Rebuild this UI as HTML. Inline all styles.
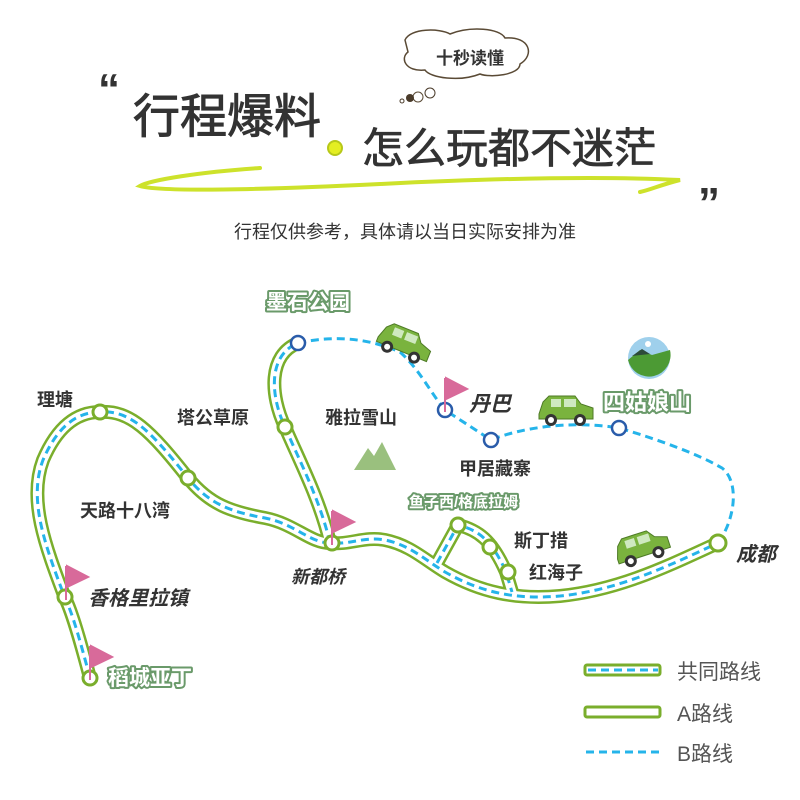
<!DOCTYPE html>
<html><head><meta charset="utf-8"><style>
body{margin:0;background:#fff}
svg{display:block}
text{font-family:"Liberation Sans","Noto Sans CJK SC",sans-serif}
</style></head><body>
<svg width="800" height="800" viewBox="0 0 800 800" xmlns="http://www.w3.org/2000/svg">
<defs>
<path id="p1" d="M90,678 C80,640 72,612 65,598 C45,545 28,500 43,460 C58,425 78,412 100,412 C130,410 150,430 188,478 C210,505 232,512 265,518 C295,524 310,543 330,543 C350,545 365,536 385,540 C410,545 425,560 445,572 C480,592 515,600 560,596 C620,590 670,565 718,543"/>
<path id="p2" d="M330,543 C320,500 300,462 285,427 C270,395 268,355 298,343"/>
<path id="p3" d="M437,563 L458,525 C478,530 492,540 506,572 L512,592"/>
<g id="car">
<path d="M0,18 L4,6 L10,0 L36,0 L42,8 L54,12 L54,23 L0,23 Z" fill="#7ab33e" stroke="#4d7a25" stroke-width="1"/>
<rect x="12" y="3" width="10" height="8" fill="#cfe9c0"/><rect x="25" y="3" width="12" height="8" fill="#cfe9c0"/>
<circle cx="12" cy="24" r="6" fill="#333"/><circle cx="12" cy="24" r="3" fill="#fff"/>
<circle cx="41" cy="24" r="6" fill="#333"/><circle cx="41" cy="24" r="3" fill="#fff"/>
</g>
</defs>

<!-- header -->
<text x="98" y="104" font-size="44" font-weight="bold" fill="#333">“</text>
<text x="698" y="218" font-size="44" font-weight="bold" fill="#333">”</text>
<path d="M405,40 C410,28 440,28 450,34 C470,26 500,28 505,38 C530,36 535,55 520,64 C520,75 490,78 480,74 C460,82 430,78 425,70 C405,72 400,58 408,52 Z" fill="#fff" stroke="#5a4a35" stroke-width="1.5"/>
<text x="436" y="64" font-size="17" font-weight="bold" fill="#333">十秒读懂</text>
<circle cx="418" cy="97" r="5" fill="#fff" stroke="#5a4a35"/><circle cx="410" cy="98" r="4" fill="#4a3b2a"/><circle cx="402" cy="101" r="2" fill="none" stroke="#4a3b2a"/><circle cx="430" cy="93" r="5" fill="none" stroke="#4a3b2a"/>
<text x="133" y="133" font-size="47" fill="#333" stroke="#333" stroke-width="1">行程爆料</text>
<circle cx="335" cy="148" r="7" fill="#e4ee22" stroke="#b7c81a" stroke-width="2"/>
<text x="362" y="163" font-size="42" fill="#333" stroke="#333" stroke-width="0.8">怎么玩都不迷茫</text>
<path d="M260,168 C200,172 150,180 140,186 C160,192 260,190 380,184 C500,178 600,176 680,180 C660,185 650,190 640,192" fill="none" stroke="#cde22b" stroke-width="4" stroke-linecap="round"/>
<text x="405" y="238" font-size="18" fill="#333" text-anchor="middle">行程仅供参考，具体请以当日实际安排为准</text>

<!-- routes -->
<g fill="none" stroke-linecap="round" stroke-linejoin="round">
<use href="#p1" stroke="#7aae2c" stroke-width="14"/><use href="#p2" stroke="#7aae2c" stroke-width="14"/><use href="#p3" stroke="#7aae2c" stroke-width="14"/>
<use href="#p1" stroke="#fff" stroke-width="9"/><use href="#p2" stroke="#fff" stroke-width="9"/><use href="#p3" stroke="#fff" stroke-width="9"/>
<g stroke="#25b4ea" stroke-width="3" stroke-dasharray="8,5" stroke-linecap="butt">
<use href="#p1"/><use href="#p2"/><use href="#p3"/>
<path d="M298,343 C340,334 372,340 400,352 C420,370 430,392 445,410 L491,440 C520,428 570,420 619,428 C660,440 700,455 722,468 C740,482 735,520 718,543"/>
</g>
</g>

<!-- stations -->
<g fill="#fff" stroke="#7aae2c" stroke-width="3">
<circle cx="100" cy="412" r="7"/><circle cx="188" cy="478" r="7"/><circle cx="285" cy="427" r="7"/><circle cx="332" cy="543" r="7"/>
<circle cx="65" cy="597" r="7"/><circle cx="90" cy="678" r="7"/><circle cx="458" cy="525" r="7"/><circle cx="490" cy="547" r="7"/><circle cx="508" cy="572" r="7"/><circle cx="718" cy="543" r="8"/>
</g>
<g fill="#fff" stroke="#2a5caa" stroke-width="2.5">
<circle cx="298" cy="343" r="7"/><circle cx="445" cy="410" r="7"/><circle cx="491" cy="440" r="7"/><circle cx="619" cy="428" r="7"/>
</g>
<!-- flags -->
<g fill="#d86a9a" stroke="#d86a9a" stroke-width="2">
<path d="M66,600 V566" /><path d="M67,566 L88,577 L67,587 Z"/>
<path d="M90,680 V646"/><path d="M91,646 L112,657 L91,667 Z"/>
<path d="M332,545 V511"/><path d="M333,511 L354,522 L333,532 Z"/>
<path d="M445,412 V378"/><path d="M446,378 L467,389 L446,399 Z"/>
</g>
<!-- mountain -->
<path d="M354,470 L368,448 L374,456 L382,442 L396,470 Z" fill="#9ac07e"/>
<!-- scenic icon -->
<circle cx="649" cy="358" r="21" fill="#9fd0ec"/>
<path d="M628,360 L640,350 L652,355 L670,350 A21,21 0 0 1 628,360 Z" fill="#4c9a34"/>
<path d="M632,356 L642,349 L650,354 Z" fill="#2d4a3a"/>
<circle cx="648" cy="344" r="3" fill="#fff"/>
<!-- cars -->
<use href="#car" transform="translate(385,320) rotate(22)"/>
<use href="#car" transform="translate(539,396)"/>
<use href="#car" transform="translate(612,542) rotate(-18)"/>

<!-- labels -->
<g font-weight="bold" fill="#333" font-size="18">
<text x="37" y="406">理塘</text>
<text x="177" y="424">塔公草原</text>
<text x="325" y="424">雅拉雪山</text>
<text x="80" y="517">天路十八湾</text>
<text x="291" y="583" font-style="italic">新都桥</text>
<text x="88" y="605" font-size="20" font-style="italic">香格里拉镇</text>
<text x="469" y="411" font-size="21" font-style="italic">丹巴</text>
<text x="459" y="475">甲居藏寨</text>
<text x="514" y="547">斯丁措</text>
<text x="529" y="579">红海子</text>
<text x="736" y="561" font-size="20" font-style="italic">成都</text>
</g>
<g font-weight="bold" fill="#fff" stroke="#6a9a6a" stroke-width="4" paint-order="stroke" stroke-linejoin="round">
<text x="266" y="309" font-size="21">墨石公园</text>
<text x="603" y="410" font-size="22">四姑娘山</text>
<text x="409" y="507" font-size="15">鱼子西/格底拉姆</text>
<text x="108" y="685" font-size="21">稻城亚丁</text>
</g>

<!-- legend -->
<rect x="585" y="665" width="75" height="10" rx="2" fill="#fff" stroke="#7aae2c" stroke-width="3"/>
<line x1="588" y1="670" x2="658" y2="670" stroke="#25b4ea" stroke-width="3" stroke-dasharray="8,5"/>
<rect x="585" y="707" width="75" height="10" rx="2" fill="#fff" stroke="#7aae2c" stroke-width="3"/>
<line x1="586" y1="752" x2="660" y2="752" stroke="#25b4ea" stroke-width="3" stroke-dasharray="8,5"/>
<g font-size="21" fill="#555">
<text x="677" y="679">共同路线</text>
<text x="677" y="721">A路线</text>
<text x="677" y="761">B路线</text>
</g>
</svg>
</body></html>
